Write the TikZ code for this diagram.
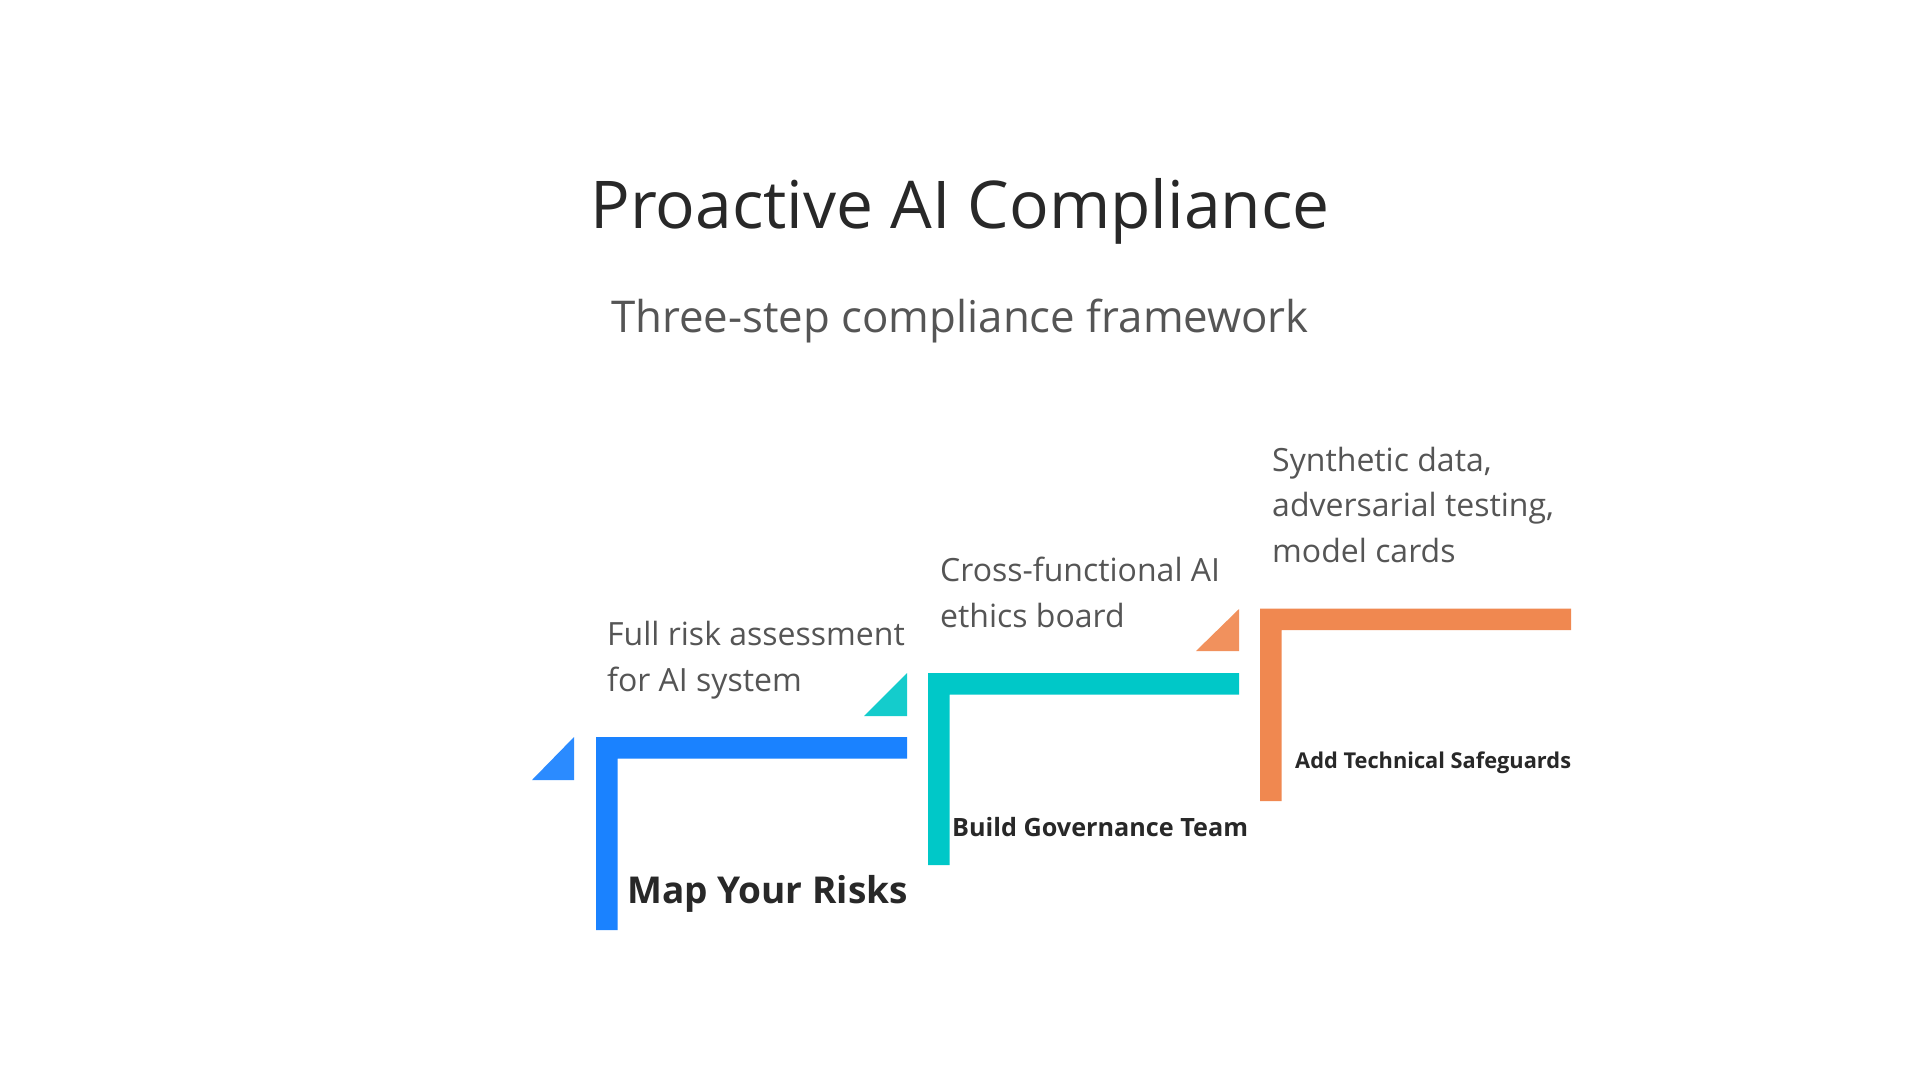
\documentclass[tikz,border=0pt]{standalone}
\usepackage{fontspec}
\setmainfont{Open Sans}
\usetikzlibrary{positioning}

\definecolor{riskblue}{RGB}{26,130,255}
\definecolor{teamteal}{RGB}{0,200,200}
\definecolor{guardorange}{RGB}{240,136,80}
\definecolor{titlegray}{RGB}{40,40,40}
\definecolor{notegray}{RGB}{85,85,85}

\begin{document}
\begin{tikzpicture}[x=1pt, y=-1pt,
    note/.style={anchor=base west, inner sep=0pt, align=left, text=notegray, font=\fontsize{32}{45.5}\selectfont},
    steplabel/.style={anchor=base west, inner sep=0pt, text=titlegray, font=\bfseries},
    marker/.style={opacity=0.92}
  ]
    \fill[white] (0,0) rectangle (1920,1080);
    \useasboundingbox (0,0) rectangle (1920,1080);

    \node[anchor=base, inner sep=0pt, text=titlegray, font=\fontsize{65.9}{78}\selectfont] (title) at (960,228) {Proactive AI Compliance};
    \node[anchor=base, inner sep=0pt, text=notegray, font=\fontsize{43.8}{52}\selectfont] (subtitle) at (960,332) {Three-step compliance framework};

    % step 1
    \fill[riskblue] (596,930) |- (907,737) -- ++(0,21.5) -| (617.5,930) -- cycle;
    \fill[riskblue, marker] (574,737) -- (574,780) -- (532,780) -- cycle;
    \node[note] (risknote) at (607,691) {Full risk assessment\\for AI system};
    \node[steplabel, font=\bfseries\fontsize{37}{40}\selectfont] (risks) at (627,903) {Map Your Risks};

    % step 2
    \fill[teamteal] (928,865) |- (1239,673) -- ++(0,21.5) -| (949.5,865) -- cycle;
    \fill[teamteal, marker] (907,673) -- (907,716) -- (864,716) -- cycle;
    \node[note] (teamnote) at (940,627) {Cross-functional AI\\ethics board};
    \node[steplabel, font=\bfseries\fontsize{25.2}{30}\selectfont] (team) at (952,836) {Build Governance Team};

    % step 3
    \fill[guardorange] (1260,801) |- (1571,608.5) -- ++(0,21.5) -| (1281.5,801) -- cycle;
    \fill[guardorange, marker] (1239,609) -- (1239,651) -- (1196,651) -- cycle;
    \node[note] (guardnote) at (1272,562) {Synthetic data,\\adversarial testing,\\model cards};
    \node[steplabel, font=\bfseries\fontsize{21.8}{25}\selectfont] (guards) at (1295,768) {Add Technical Safeguards};
\end{tikzpicture}
\end{document}
